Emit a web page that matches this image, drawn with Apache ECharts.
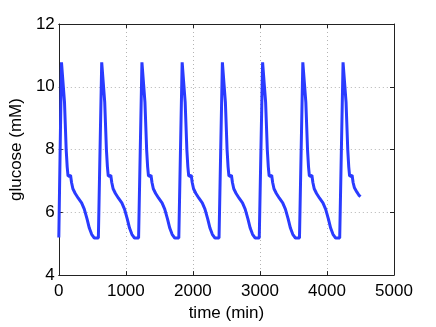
<!DOCTYPE html>
<html>
<head>
<meta charset="utf-8">
<script src="https://cdn.jsdelivr.net/npm/echarts@6/dist/echarts.min.js"></script>
<style>
  html, body { margin: 0; padding: 0; background: #fff; }
  #chart { width: 436px; height: 327px; }
</style>
</head>
<body>
<div id="chart"></div>
<script>
"use strict";

// time (min)
var times = [
  0, 40, 65, 85, 110, 125, 138, 165, 175, 190, 210, 245, 290, 340, 380, 420, 455, 490, 530, 590,
  600, 640, 665, 685, 710, 725, 738, 765, 775, 790, 810, 845, 890, 940, 980, 1020, 1055, 1090, 1130, 1190,
  1200, 1240, 1265, 1285, 1310, 1325, 1338, 1365, 1375, 1390, 1410, 1445, 1490, 1540, 1580, 1620, 1655, 1690, 1730, 1790,
  1800, 1840, 1865, 1885, 1910, 1925, 1938, 1965, 1975, 1990, 2010, 2045, 2090, 2140, 2180, 2220, 2255, 2290, 2330, 2390,
  2400, 2440, 2465, 2485, 2510, 2525, 2538, 2565, 2575, 2590, 2610, 2645, 2690, 2740, 2780, 2820, 2855, 2890, 2930, 2990,
  3000, 3040, 3065, 3085, 3110, 3125, 3138, 3165, 3175, 3190, 3210, 3245, 3290, 3340, 3380, 3420, 3455, 3490, 3530, 3590,
  3600, 3640, 3665, 3685, 3710, 3725, 3738, 3765, 3775, 3790, 3810, 3845, 3890, 3940, 3980, 4020, 4055, 4090, 4130, 4190,
  4200, 4240, 4265, 4285, 4310, 4325, 4338, 4365, 4375, 4390, 4410, 4445, 4475, 4500
];

// glucose (mM)
var glucose = [
  5.2, 10.78, 10.78, 9.5, 8.0, 7.45, 7.15, 7.15, 7.18, 6.95, 6.75, 6.6, 6.45, 6.3, 6.1, 5.8, 5.5, 5.3, 5.18, 5.18,
  5.2, 10.78, 10.78, 9.5, 8.0, 7.45, 7.15, 7.15, 7.18, 6.95, 6.75, 6.6, 6.45, 6.3, 6.1, 5.8, 5.5, 5.3, 5.18, 5.18,
  5.2, 10.78, 10.78, 9.5, 8.0, 7.45, 7.15, 7.15, 7.18, 6.95, 6.75, 6.6, 6.45, 6.3, 6.1, 5.8, 5.5, 5.3, 5.18, 5.18,
  5.2, 10.78, 10.78, 9.5, 8.0, 7.45, 7.15, 7.15, 7.18, 6.95, 6.75, 6.6, 6.45, 6.3, 6.1, 5.8, 5.5, 5.3, 5.18, 5.18,
  5.2, 10.78, 10.78, 9.5, 8.0, 7.45, 7.15, 7.15, 7.18, 6.95, 6.75, 6.6, 6.45, 6.3, 6.1, 5.8, 5.5, 5.3, 5.18, 5.18,
  5.2, 10.78, 10.78, 9.5, 8.0, 7.45, 7.15, 7.15, 7.18, 6.95, 6.75, 6.6, 6.45, 6.3, 6.1, 5.8, 5.5, 5.3, 5.18, 5.18,
  5.2, 10.78, 10.78, 9.5, 8.0, 7.45, 7.15, 7.15, 7.18, 6.95, 6.75, 6.6, 6.45, 6.3, 6.1, 5.8, 5.5, 5.3, 5.18, 5.18,
  5.2, 10.78, 10.78, 9.5, 8.0, 7.45, 7.15, 7.15, 7.18, 6.95, 6.78, 6.65, 6.55, 6.5
];

var xTicks = [0, 1000, 2000, 3000, 4000, 5000];
var yTicks = [4, 6, 8, 10, 12];

var font = "'Liberation Sans', Arial, sans-serif";

function pairs() {
  var out = [];
  for (var i = 0; i < times.length; i++) out.push([times[i], glucose[i]]);
  return out;
}

var gridLine = {
  show: true,
  lineStyle: { color: "#b4b4b4", type: [1, 3], width: 1 },
};

function frameAxis(pos, ticks) {
  return {
    type: "value",
    position: pos,
    min: ticks[0],
    max: ticks[ticks.length - 1],
    interval: ticks[1] - ticks[0],
    axisLine: { show: true, onZero: false, lineStyle: { color: "#222", width: 1 } },
    axisTick: { show: true, inside: true, length: 4, lineStyle: { color: "#222" } },
    axisLabel: { show: false },
    splitLine: { show: false },
  };
}

var chart = echarts.init(document.getElementById("chart"));

chart.setOption({
  animation: false,
  textStyle: { fontFamily: font },
  grid: { left: 57, right: 42, top: 24, bottom: 48 },
  xAxis: [
    {
      type: "value",
      position: "bottom",
      min: xTicks[0],
      max: xTicks[xTicks.length - 1],
      interval: xTicks[1] - xTicks[0],
      name: "time (min)",
      nameLocation: "middle",
      nameGap: 19,
      nameTextStyle: { fontSize: 17, color: "#000", fontFamily: font },
      axisLine: { show: true, onZero: false, lineStyle: { color: "#222", width: 1 } },
      axisTick: { show: true, inside: true, length: 4, lineStyle: { color: "#222" } },
      axisLabel: {
        fontSize: 17,
        color: "#000",
        margin: 8,
        showMinLabel: true,
        showMaxLabel: true,
        fontFamily: font,
        formatter: function (v) { return String(v); },
      },
      splitLine: gridLine,
    },
    frameAxis("top", xTicks),
  ],
  yAxis: [
    {
      type: "value",
      position: "left",
      min: yTicks[0],
      max: yTicks[yTicks.length - 1],
      interval: yTicks[1] - yTicks[0],
      name: "glucose (mM)",
      nameLocation: "middle",
      nameGap: 27,
      nameTextStyle: { fontSize: 17, color: "#000", fontFamily: font },
      axisLine: { show: true, onZero: false, lineStyle: { color: "#222", width: 1 } },
      axisTick: { show: true, inside: true, length: 4, lineStyle: { color: "#222" } },
      axisLabel: {
        fontSize: 17,
        color: "#000",
        margin: 4,
        showMinLabel: true,
        showMaxLabel: true,
        fontFamily: font,
      },
      splitLine: gridLine,
    },
    frameAxis("right", yTicks),
  ],
  series: [
    {
      type: "line",
      xAxisIndex: 0,
      yAxisIndex: 0,
      data: pairs(),
      showSymbol: false,
      symbol: "none",
      lineStyle: { color: "#2a3bff", width: 3 },
      itemStyle: { color: "#2a3bff" },
    },
  ],
});
</script>
</body>
</html>
